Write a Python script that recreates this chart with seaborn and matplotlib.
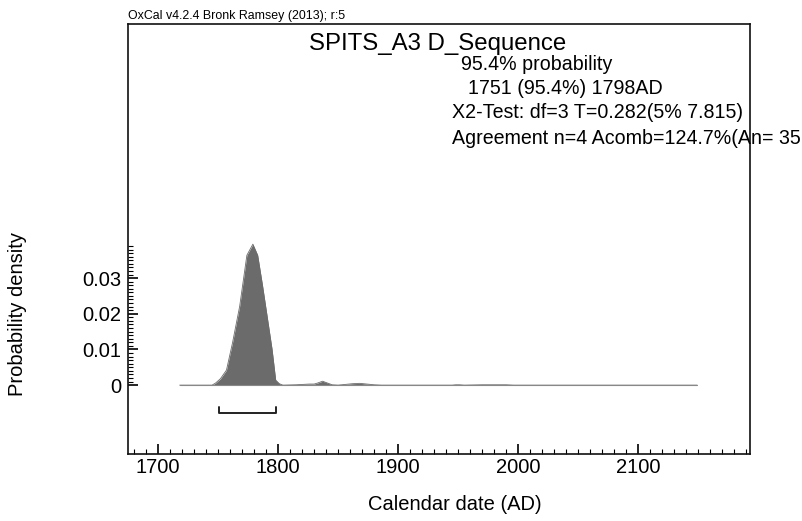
import numpy as np
import pandas as pd
import seaborn as sns
import matplotlib.pyplot as plt
from matplotlib.ticker import FixedLocator

# posterior density
years = [1718, 1745, 1748, 1752, 1757, 1762, 1768, 1774, 1779, 1783, 1787, 1791,
         1795, 1798, 1801, 1804, 1815, 1826, 1830, 1833, 1837, 1841, 1845, 1850,
         1856, 1862, 1868, 1874, 1880, 1886, 1945, 1948, 1951, 1955, 1970, 1980,
         1990, 1996, 2149]
density = [0, 0, 0.0006, 0.0018, 0.0042, 0.0118, 0.0221, 0.0364, 0.0395, 0.0364,
           0.0280, 0.0190, 0.0100, 0.0014, 0.0004, 0, 0.0001, 0.0003, 0.0003,
           0.0006, 0.0011, 0.0006, 0.0001, 0, 0.0002, 0.0004, 0.0005, 0.0003,
           0.0001, 0, 0, 0.0001, 0.0001, 0, 0.0001, 0.0001, 0.0001, 0, 0]

range_from, range_to = 1751, 1798
x_ticks = [1700, 1800, 1900, 2000, 2100]
y_ticks = [0, 0.01, 0.02, 0.03]
y_tick_labels = ['0', '0.01', '0.02', '0.03']

title = "SPITS_A3 D_Sequence"
info_lines = [
    ("95.4% probability", 461, 65),
    ("1751 (95.4%) 1798AD", 468, 88),
    ("X2-Test: df=3 T=0.282(5% 7.815)", 452, 113),
    ("Agreement n=4 Acomb=124.7%(An= 35.4%)", 452, 138),
]

sns.set_theme(style="white")
plt.rcParams['font.family'] = ['Liberation Sans', 'DejaVu Sans']
plt.rcParams['text.color'] = 'black'

df = pd.DataFrame({'year': years, 'density': density})

W, H = 803, 521
fig = plt.figure(figsize=(W / 100, H / 100), dpi=100)
ax = fig.add_axes([128 / W, (H - 454) / H, 622 / W, 430 / H])

fill_col = '#6b6b6b'
ax.fill_between(df['year'], df['density'], 0, color=fill_col, lw=0)
sns.lineplot(data=df, x='year', y='density', ax=ax, color=fill_col, lw=0.6)
ax.plot([years[0], years[-1]], [0, 0], color='#888888', lw=0.8)

# 95.4% range bracket
yb, yt = -0.0079, -0.0061
ax.plot([range_from, range_from, range_to, range_to], [yt, yb, yb, yt],
        color='#222222', lw=1.4)

ax.set_xlim(1675, 2193)
ax.set_ylim(-0.0193, 0.1012)

ax.set_xticks(x_ticks)
ax.xaxis.set_minor_locator(FixedLocator(np.arange(1680, 2191, 10)))
ax.set_yticks(y_ticks)
ax.set_yticklabels(y_tick_labels)
ax.yaxis.set_minor_locator(FixedLocator(np.arange(0, 0.0395, 0.001)))

ax.tick_params(axis='both', which='major', direction='in', length=7, width=1.2,
               labelsize=14.5, color='black', labelcolor='black',
               bottom=True, left=True)
ax.tick_params(axis='x', which='major', pad=3)
ax.tick_params(axis='y', which='major', pad=5)
ax.tick_params(axis='both', which='minor', direction='in', length=3.5, width=0.8,
               color='black', bottom=True, left=True)

for s in ax.spines.values():
    s.set_color('#111111')
    s.set_linewidth(1.2)

ax.set_xlabel("")
ax.set_ylabel("")
fig.text(455 / W, 1 - 504 / H, "Calendar date (AD)", fontsize=14.5,
         ha='center', va='center')
fig.text(18 / W, 1 - 314 / H, "Probability density", rotation=90,
         fontsize=14.5, ha='center', va='center')

fig.text(128 / W, 1 - 22 / H, "OxCal v4.2.4 Bronk Ramsey (2013); r:5",
         fontsize=8.9, ha='left', va='bottom')
fig.text(438 / W, 1 - 44 / H, title, fontsize=17.3, ha='center', va='center')
for txt, px, py in info_lines:
    fig.text(px / W, 1 - py / H, txt, fontsize=14.1, ha='left', va='center')

fig.savefig("out.png", dpi=100, facecolor='white')
